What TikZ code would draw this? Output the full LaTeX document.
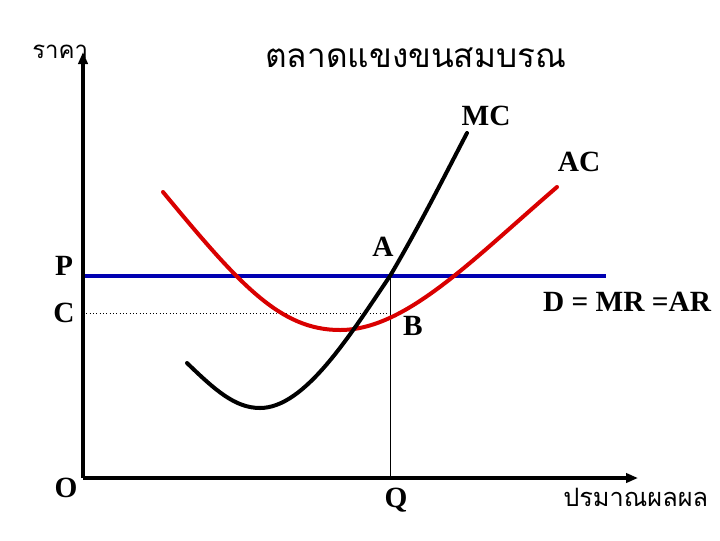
\documentclass[tikz,border=0pt]{standalone}
\usepackage{fontspec}
\setmainfont{Liberation Serif}
\newfontfamily\thaifont[Script=Thai]{Loma}
\usetikzlibrary{arrows.meta}
\tikzset{
  lbl/.style={font=\bfseries\fontsize{22}{24}\selectfont, inner sep=0pt},
  thai/.style={font=\thaifont\fontsize{18}{20}\selectfont, inner sep=0pt},
  axis/.style={line width=3pt, -{Triangle[length=9pt,width=7pt]}},
  curve/.style={line width=3pt, line cap=round},
}
\begin{document}
\begin{tikzpicture}[x=0.75pt,y=-0.75pt]
\useasboundingbox (0,0) rectangle (720,540);
% coordinates
\coordinate (O) at (83,478);
\coordinate (ytop) at (83,52);
\coordinate (xend) at (638,478);
\coordinate (Pl) at (83,276);
\coordinate (Pr) at (606,276);
\coordinate (Cl) at (83,313);
\coordinate (Ax) at (390,276);
\coordinate (Bx) at (390,313);
\coordinate (Qx) at (390,478);
% guide lines
\draw[line width=0.5pt, dotted] (Cl) -- (Bx);
\draw[line width=0.6pt] (Ax) -- (Qx);
% demand line
\draw[blue!70!black, line width=2.5pt] (Pl) -- (Pr);
% AC
\draw[curve, red!85!black] (163,192) .. controls (240,285) and (280,330) .. (340,330)
  .. controls (405,330) and (470,262) .. (557,187);
% MC
\draw[curve, black] (187,363) .. controls (215,390) and (235,408) .. (260,408)
  .. controls (305,408) and (350,335) .. (390,276)
  .. controls (420,225) and (445,175) .. (467,133);
% axes
\draw[axis] (O) -- (ytop);
\draw[axis] (O) -- (xend);
% labels
\node[thai, anchor=west] (yl) at (32,52) {ราคา};
\node[thai, font=\thaifont\fontsize{25}{28}\selectfont, anchor=west] (title) at (265,58) {ตลาดแขงขนสมบรณ};
\node[lbl] (mc) at (486,116) {MC};
\node[lbl] (ac) at (579,162) {AC};
\node[lbl] (a) at (383,247) {A};
\node[lbl] (p) at (64,266) {P};
\node[lbl] (c) at (64,313) {C};
\node[lbl] (b) at (413,326) {B};
\node[lbl] (d) at (627,302) {D = MR =AR};
\node[lbl] (o) at (66,488) {O};
\node[lbl] (q) at (396,500) {Q};
\node[thai, font=\thaifont\fontsize{19}{21}\selectfont, anchor=west] (xl) at (563,497) {ปรมาณผลผล};
\end{tikzpicture}
\end{document}
